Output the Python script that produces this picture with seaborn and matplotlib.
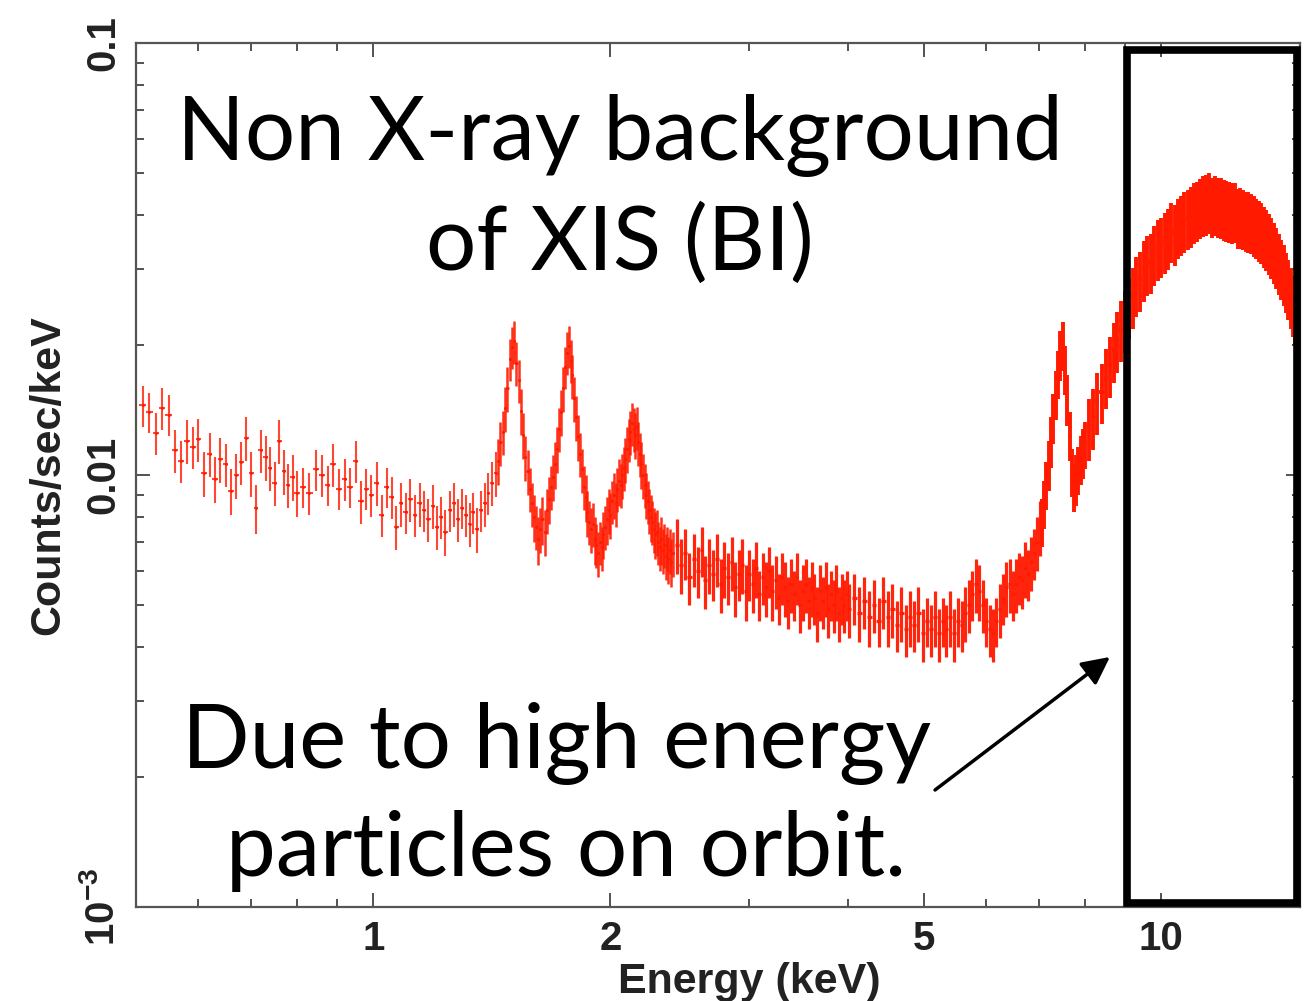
import numpy as np
import pandas as pd
import seaborn as sns
import matplotlib.pyplot as plt
from matplotlib.patches import Rectangle
from matplotlib.transforms import blended_transform_factory
from matplotlib.ticker import LogLocator, NullFormatter

# XIS (BI) non X-ray background spectrum.
# bin centres in keV, rates and 1-sigma errors in 1e-3 counts/sec/keV

# soft part, 0.5 - 1.43 keV
energy_soft = [0.51, 0.52, 0.53, 0.54, 0.55, 0.56, 0.57, 0.58, 0.59, 0.60,
               0.61, 0.62, 0.63, 0.64, 0.65, 0.66, 0.67, 0.68, 0.69, 0.70,
               0.71, 0.72, 0.73, 0.74, 0.75, 0.76, 0.77, 0.78, 0.79, 0.80,
               0.815, 0.83, 0.845, 0.86, 0.875, 0.89, 0.905, 0.92, 0.935, 0.95,
               0.965, 0.98, 0.995, 1.01, 1.025, 1.04, 1.055, 1.07, 1.085, 1.10,
               1.115, 1.13, 1.145, 1.16, 1.175, 1.19, 1.205, 1.22, 1.235, 1.25,
               1.265, 1.28, 1.295, 1.31, 1.325, 1.34, 1.355, 1.37, 1.385, 1.40,
               1.415, 1.43]
rate_soft = [14.5, 14.0, 12.5, 14.3, 13.8, 11.4, 10.8, 12.0, 11.6, 12.1,
             10.1, 11.2, 9.8, 10.9, 10.6, 9.2, 10.0, 10.7, 12.2, 10.1,
             8.4, 11.4, 11.0, 10.4, 9.6, 12.0, 10.2, 9.5, 9.9, 9.1,
             9.4, 9.1, 10.3, 10.0, 9.5, 10.6, 9.3, 9.8, 9.4, 10.8,
             8.7, 9.3, 9.0, 9.6, 8.1, 9.4, 8.9, 7.6, 8.6, 8.2,
             8.8, 8.1, 8.6, 8.3, 7.9, 8.5, 7.6, 8.0, 7.4, 8.3,
             8.6, 7.9, 8.4, 8.1, 7.7, 8.2, 7.5, 8.3, 8.6, 9.1,
             9.6, 10.1]
err_soft = [1.6, 1.5, 1.4, 1.6, 1.5, 1.3, 1.2, 1.4, 1.3, 1.4,
            1.2, 1.3, 1.2, 1.3, 1.2, 1.1, 1.2, 1.2, 1.4, 1.2,
            1.1, 1.3, 1.3, 1.2, 1.1, 1.4, 1.2, 1.1, 1.2, 1.1,
            1.0, 1.0, 1.1, 1.1, 1.0, 1.2, 1.0, 1.1, 1.0, 1.2,
            1.0, 1.0, 1.0, 1.1, 0.9, 1.0, 1.0, 0.9, 1.0, 0.9,
            1.0, 0.9, 1.0, 0.9, 0.9, 1.0, 0.9, 0.9, 0.9, 0.9,
            1.0, 0.9, 0.9, 0.9, 0.9, 0.9, 0.9, 0.9, 1.0, 1.0,
            1.1, 1.2]

# Al K, Si K and Au M lines, 1.44 - 2.4 keV
energy_lines = [1.44, 1.45, 1.46, 1.47, 1.48, 1.49,
                1.50, 1.51, 1.52, 1.53, 1.54, 1.55, 1.56, 1.57, 1.58, 1.59,
                1.60, 1.61, 1.62, 1.63, 1.64, 1.65, 1.66, 1.67, 1.68, 1.69,
                1.70, 1.71, 1.72, 1.73, 1.74, 1.75, 1.76, 1.77, 1.78, 1.79,
                1.80, 1.81, 1.82, 1.83, 1.84, 1.85, 1.86, 1.87, 1.88, 1.89,
                1.90, 1.91, 1.92, 1.93, 1.94, 1.95, 1.96, 1.97, 1.98, 1.99,
                2.00, 2.01, 2.02, 2.03, 2.04, 2.05, 2.06, 2.07, 2.08, 2.09,
                2.10, 2.11, 2.12, 2.13, 2.14, 2.15, 2.16, 2.17, 2.18, 2.19,
                2.20, 2.21, 2.22, 2.23, 2.24, 2.25, 2.26, 2.27, 2.28, 2.29,
                2.30, 2.31, 2.32, 2.33, 2.34, 2.35, 2.36, 2.37, 2.38, 2.39,
                2.40]
rate_lines = [10.8, 11.9, 12.6, 14.3, 15.9, 18.6,
              19.8, 20.4, 18.2, 16.6, 14.1, 12.4, 11.0, 10.2, 9.3, 8.6,
              8.0, 7.6, 7.1, 7.5, 7.9, 7.4, 8.3, 8.8, 9.4, 9.9,
              10.6, 11.5, 12.8, 14.0, 15.9, 17.8, 19.2, 19.9, 18.4, 17.0,
              15.1, 13.6, 12.3, 11.2, 10.3, 9.4, 8.9, 8.2, 7.8, 7.5,
              7.7, 7.1, 6.9, 6.6, 7.0, 6.8, 7.3, 7.6, 7.9, 8.3,
              8.1, 8.7, 9.0, 8.6, 9.3, 9.7, 9.5, 10.0, 10.4, 10.9,
              11.5, 12.1, 12.6, 13.2, 12.8, 12.4, 12.9, 11.9, 11.2, 10.6,
              10.0, 9.5, 9.0, 8.7, 8.3, 8.0, 7.8, 7.5, 7.3, 7.4,
              7.0, 6.8, 7.1, 6.7, 6.9, 6.5, 6.8, 6.4, 6.7, 6.3,
              6.6]
err_lines = [1.3, 1.4, 1.5, 1.7, 1.9, 2.1,
             2.2, 2.3, 2.1, 1.9, 1.7, 1.5, 1.3, 1.2, 1.1, 1.0,
             1.0, 0.9, 0.9, 0.9, 1.0, 0.9, 1.0, 1.1, 1.1, 1.2,
             1.3, 1.4, 1.5, 1.7, 1.9, 2.0, 2.2, 2.2, 2.1, 2.0,
             1.8, 1.6, 1.5, 1.3, 1.2, 1.1, 1.1, 1.0, 0.9, 0.9,
             0.9, 0.9, 0.8, 0.8, 0.8, 0.8, 0.9, 0.9, 1.0, 1.0,
             1.0, 1.0, 1.1, 1.0, 1.1, 1.2, 1.1, 1.2, 1.2, 1.3,
             1.4, 1.4, 1.5, 1.5, 1.5, 1.5, 1.5, 1.4, 1.3, 1.3,
             1.2, 1.1, 1.1, 1.0, 1.0, 1.0, 0.9, 0.9, 0.9, 0.9,
             0.8, 0.8, 0.9, 0.8, 0.8, 0.8, 0.8, 0.8, 0.8, 0.8,
             0.8]

# flat continuum, 2.4 - 7 keV
energy_flat = [2.43, 2.46, 2.49, 2.52, 2.55, 2.58, 2.61, 2.64, 2.67, 2.70,
               2.73, 2.76, 2.79, 2.82, 2.85, 2.88, 2.91, 2.94, 2.97, 3.00,
               3.03, 3.06, 3.09, 3.12, 3.15, 3.18, 3.21, 3.24, 3.27, 3.30,
               3.33, 3.36, 3.39, 3.42, 3.45, 3.48, 3.51, 3.54, 3.57, 3.60,
               3.63, 3.66, 3.69, 3.72, 3.75, 3.78, 3.81, 3.84, 3.87, 3.90,
               3.93, 3.96, 3.99, 4.02,
               4.08, 4.14, 4.20, 4.26, 4.32, 4.38, 4.44, 4.50, 4.56, 4.62,
               4.68, 4.74, 4.80, 4.86, 4.92, 4.98, 5.04, 5.10, 5.16, 5.22,
               5.28, 5.34, 5.40, 5.46, 5.52, 5.58, 5.64, 5.70, 5.76, 5.82,
               5.88, 5.94, 6.00, 6.06, 6.12, 6.18, 6.24, 6.30, 6.36, 6.42,
               6.48, 6.54, 6.60, 6.66, 6.72, 6.78, 6.84, 6.90, 6.96, 7.02]
rate_flat = [6.9, 6.2, 6.6, 5.8, 6.4, 6.0, 6.7, 5.7, 6.2, 5.9,
             6.4, 5.6, 6.1, 5.8, 6.3, 5.5, 5.9, 6.2, 5.4, 5.9,
             5.6, 6.1, 5.3, 5.8, 5.5, 6.0, 5.4, 5.7, 5.2, 5.8,
             5.5, 5.1, 5.6, 5.3, 5.8, 5.0, 5.4, 5.6, 5.1, 5.5,
             5.2, 4.8, 5.4, 5.1, 5.5, 4.9, 5.3, 5.0, 5.4, 4.8,
             5.2, 5.0, 5.3, 4.9,
             5.2, 4.8, 5.1, 4.7, 5.0, 4.6, 5.1, 4.7, 4.9, 4.5,
             4.8, 4.4, 4.7, 4.5, 4.8, 4.3, 4.6, 4.4, 4.7, 4.3,
             4.6, 4.4, 4.7, 4.3, 4.6, 4.5, 4.8, 5.0, 5.3, 5.6,
             5.4, 5.0, 4.6, 4.4, 4.3, 4.6, 4.9, 5.2, 5.5, 5.6,
             5.3, 5.6, 5.8, 5.7, 6.1, 5.9, 6.3, 6.6, 7.0, 7.6]
err_flat = [1.0, 0.9, 0.9, 0.8, 0.9, 0.8, 0.9, 0.8, 0.9, 0.8,
            0.9, 0.8, 0.9, 0.8, 0.9, 0.8, 0.8, 0.9, 0.8, 0.8,
            0.8, 0.9, 0.7, 0.8, 0.8, 0.8, 0.8, 0.8, 0.7, 0.8,
            0.8, 0.7, 0.8, 0.7, 0.8, 0.7, 0.8, 0.8, 0.7, 0.8,
            0.7, 0.7, 0.8, 0.7, 0.8, 0.7, 0.7, 0.7, 0.8, 0.7,
            0.7, 0.7, 0.7, 0.7,
            0.7, 0.7, 0.7, 0.7, 0.7, 0.6, 0.7, 0.7, 0.7, 0.6,
            0.7, 0.6, 0.7, 0.6, 0.7, 0.6, 0.6, 0.6, 0.7, 0.6,
            0.6, 0.6, 0.7, 0.6, 0.6, 0.6, 0.7, 0.7, 0.7, 0.8,
            0.8, 0.7, 0.6, 0.6, 0.6, 0.6, 0.7, 0.7, 0.8, 0.8,
            0.7, 0.8, 0.8, 0.8, 0.9, 0.8, 0.9, 0.9, 1.0, 1.1]

# Ni K line and the high energy hump, 7 - 15 keV
energy_hard = [7.05, 7.10, 7.15, 7.20, 7.25, 7.30, 7.35, 7.40, 7.45, 7.50,
               7.55, 7.60, 7.65, 7.70, 7.75, 7.80, 7.85, 7.90, 7.95, 8.00,
               8.1, 8.2, 8.3, 8.4, 8.5, 8.6, 8.7, 8.8, 8.9, 9.0,
               9.1, 9.2, 9.3, 9.4, 9.5, 9.6, 9.7, 9.8, 9.9, 10.0,
               10.1, 10.2, 10.3, 10.4, 10.5, 10.6, 10.7, 10.8, 10.9, 11.0,
               11.1, 11.2, 11.3, 11.4, 11.5, 11.6, 11.7, 11.8, 11.9, 12.0,
               12.1, 12.2, 12.3, 12.4, 12.5, 12.6, 12.7, 12.8, 12.9, 13.0,
               13.1, 13.2, 13.3, 13.4, 13.5, 13.6, 13.7, 13.8, 13.9, 14.0,
               14.1, 14.2, 14.3, 14.4, 14.5, 14.6, 14.7, 14.8, 14.9, 15.0]
rate_hard = [7.8, 8.6, 9.5, 10.6, 12.0, 13.6, 15.4, 17.2, 19.0, 20.0,
             17.6, 15.0, 12.4, 10.2, 9.4, 9.8, 10.3, 10.9, 11.3, 11.8,
             12.9, 13.6, 14.8, 15.6, 16.9, 18.0, 19.4, 20.5, 21.8, 22.9,
             24.6, 26.0, 27.6, 28.4, 30.0, 30.8, 31.2, 32.6, 33.5, 34.0,
             34.8, 35.5, 36.8, 36.3, 37.6, 38.2, 38.9, 39.5, 40.0, 40.8,
             41.2, 41.8, 42.3, 42.6, 43.1, 42.0, 42.5, 42.1, 41.9, 41.6,
             41.3, 41.0, 40.8, 40.9, 39.6, 39.8, 39.4, 39.0, 38.9, 38.6,
             38.1, 37.6, 37.2, 36.7, 36.0, 35.4, 34.7, 33.9, 33.0, 32.2,
             31.1, 30.2, 29.3, 28.2, 27.1, 26.0, 24.9, 23.8, 22.9, 22.0]
err_hard = [1.0, 1.1, 1.2, 1.4, 1.6, 1.8, 2.0, 2.2, 2.5, 2.6,
            2.3, 2.0, 1.6, 1.3, 1.2, 1.3, 1.3, 1.4, 1.5, 1.5,
            2.1, 2.2, 2.4, 2.5, 2.7, 2.9, 3.1, 3.3, 3.5, 3.7,
            3.9, 4.2, 4.4, 4.5, 4.8, 4.9, 5.0, 5.2, 5.4, 5.4,
            5.6, 5.7, 5.9, 5.8, 6.0, 6.1, 6.2, 6.3, 6.4, 6.5,
            6.6, 6.7, 6.8, 6.8, 6.9, 6.7, 6.8, 6.7, 6.7, 6.7,
            6.6, 6.6, 6.5, 6.5, 6.3, 6.4, 6.3, 6.2, 6.2, 6.2,
            6.1, 6.0, 6.0, 5.9, 5.8, 5.7, 5.6, 5.4, 5.3, 5.2,
            5.0, 4.8, 4.7, 4.5, 4.3, 4.2, 4.0, 3.8, 3.7, 3.5]

x_major = [1, 2, 5, 10]
x_minor = [0.6, 0.7, 0.8, 0.9, 3, 4, 6, 7, 8, 9]
y_major = [1e-3, 1e-2, 1e-1]
y_labels = [r'$\mathbf{10^{-3}}$', '0.01', '0.1']

# build one table
parts = []
for name, e, r, s in [('soft', energy_soft, rate_soft, err_soft),
                      ('lines', energy_lines, rate_lines, err_lines),
                      ('flat', energy_flat, rate_flat, err_flat),
                      ('hard', energy_hard, rate_hard, err_hard)]:
    parts.append(pd.DataFrame({'segment': name, 'energy': e,
                               'rate': np.array(r) * 1e-3,
                               'err': np.array(s) * 1e-3}))
df = pd.concat(parts, ignore_index=True)

sns.set_theme(style='ticks')
plt.rcParams['font.family'] = ['Liberation Sans', 'DejaVu Sans']
plt.rcParams['mathtext.fontset'] = 'custom'
plt.rcParams['mathtext.bf'] = 'Liberation Sans:bold'
plt.rcParams['mathtext.rm'] = 'Liberation Sans:bold'

RED = '#ff1a00'
fig = plt.figure(figsize=(13.14, 10.01), dpi=100)
ax = fig.add_axes([0.1035, 0.0939, 0.8858, 0.8631])

style = {'soft': (1.5, 0.8), 'lines': (1.8, 0.9), 'flat': (2.3, 0.95), 'hard': (2.8, 1.0)}
for name, d in df.groupby('segment', sort=False):
    lw, a = style[name]
    half = np.gradient(d['energy'].to_numpy()) / 2
    ax.errorbar(d['energy'], d['rate'], xerr=half, yerr=d['err'], fmt='none',
                ecolor=RED, elinewidth=lw, alpha=a)
sns.scatterplot(data=df, x='energy', y='rate', ax=ax, color=RED, s=4,
                linewidth=0, legend=False)

ax.set_xscale('log')
ax.set_yscale('log')
ax.set_xlim(0.5, 15)
ax.set_ylim(1e-3, 0.1)

ax.set_xticks(x_major, [str(v) for v in x_major])
ax.set_xticks(x_minor, minor=True)
ax.xaxis.set_minor_formatter(NullFormatter())
ax.set_yticks(y_major, y_labels)
ax.yaxis.set_minor_locator(LogLocator(base=10, subs=np.arange(2, 10)))
ax.yaxis.set_minor_formatter(NullFormatter())

ax.tick_params(which='both', direction='in', top=True, right=True,
               color='#444444', width=1.3, labelsize=29, labelcolor='#222222')
ax.tick_params(which='major', length=10)
ax.tick_params(which='minor', length=6)
ax.tick_params(axis='x', pad=9)
ax.tick_params(axis='y', pad=10)
for lbl in ax.get_xticklabels() + ax.get_yticklabels():
    lbl.set_fontweight('bold')
for lbl in ax.get_yticklabels():
    lbl.set_rotation(90)
    lbl.set_va('center')
for sp in ax.spines.values():
    sp.set_linewidth(1.6)
    sp.set_color('#555555')

ax.set_xlabel('Energy (keV)', fontsize=31, fontweight='bold', color='#222222')
ax.set_ylabel('Counts/sec/keV', fontsize=31, fontweight='bold', color='#222222')
ax.xaxis.set_label_coords(0.527, -0.064)
ax.yaxis.set_label_coords(-0.058, 0.5)

# box round the high energy hump
trans = blended_transform_factory(ax.transData, ax.transAxes)
ax.add_patch(Rectangle((9.06, 0.005), 14.87 - 9.06, 0.987, transform=trans,
                       fill=False, lw=5.5, ec='black', clip_on=False, zorder=5))

# annotation text
big = dict(family=['Lato', 'DejaVu Sans'], fontsize=64, color='black',
           ha='center', va='baseline')
fig.text(0.4718, 0.8402, 'Non X-ray background', **big)
fig.text(0.4718, 0.7303, 'of XIS (BI)', **big)
fig.text(0.4239, 0.2328, 'Due to high energy', **big)
fig.text(0.4307, 0.1249, 'particles on orbit.', **big)
ax.annotate('', xy=(0.8447, 0.3437), xytext=(0.7116, 0.2108),
            xycoords='figure fraction', textcoords='figure fraction',
            arrowprops=dict(arrowstyle='-|>,head_length=0.6,head_width=0.3',
                            lw=2.5, color='black', mutation_scale=28,
                            shrinkA=0, shrinkB=0))

fig.savefig('out.png', dpi=100, facecolor='white')
